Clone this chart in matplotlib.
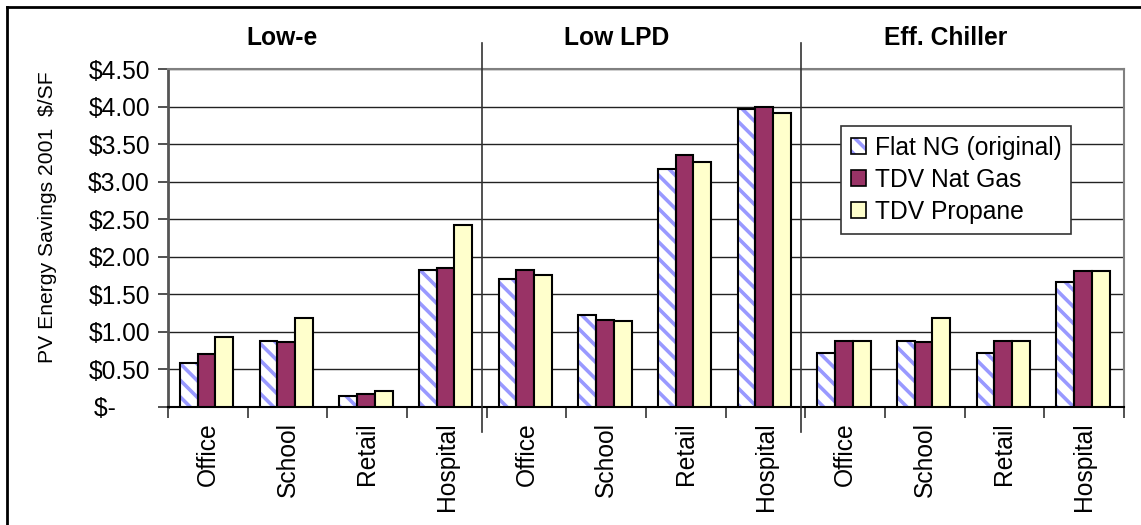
import matplotlib
matplotlib.use("Agg")
import matplotlib.pyplot as plt
import numpy as np
from matplotlib.lines import Line2D
from matplotlib.patches import Patch
from matplotlib.legend_handler import HandlerTuple

plt.rcParams['font.family'] = ['Liberation Sans', 'DejaVu Sans']
plt.rcParams['hatch.linewidth'] = 2.6

groups = ["Low-e", "Low LPD", "Eff. Chiller"]
buildings = ["Office", "School", "Retail", "Hospital"]
categories = buildings * 3
series_names = ["Flat NG (original)", "TDV Nat Gas", "TDV Propane"]
flat_ng = [0.58, 0.88, 0.14, 1.83, 1.71, 1.23, 3.17, 3.97, 0.72, 0.88, 0.72, 1.66]
tdv_nat_gas = [0.71, 0.87, 0.17, 1.85, 1.82, 1.16, 3.36, 4.00, 0.88, 0.87, 0.88, 1.81]
tdv_propane = [0.93, 1.18, 0.21, 2.42, 1.76, 1.15, 3.26, 3.92, 0.88, 1.18, 0.88, 1.81]
y_ticks = [0, 0.5, 1.0, 1.5, 2.0, 2.5, 3.0, 3.5, 4.0, 4.5]
y_tick_labels = ["$-     ", "$0.50", "$1.00", "$1.50", "$2.00", "$2.50", "$3.00", "$3.50", "$4.00", "$4.50"]

HATCH_COLOR = '#9999FF'
MAROON = '#993366'
CREAM = '#FFFFCC'

W, H = 1141, 525
fig = plt.figure(figsize=(W / 100, H / 100), dpi=100)
L, R, T, B = 168, 1124, 69, 407
ax = fig.add_axes([L / W, 1 - B / H, (R - L) / W, (B - T) / H])

fs = 17.7
x = np.arange(len(categories))
bw = 0.222
offs = [(i - 1) * bw - 0.015 for i in range(3)]

# Flat NG: hatched (blue stripes on white) then black outline
ax.bar(x + offs[0], flat_ng, width=bw, facecolor='white', edgecolor=HATCH_COLOR,
       hatch='\\\\', linewidth=0, zorder=3)
ax.bar(x + offs[0], flat_ng, width=bw, facecolor='none', edgecolor='black',
       linewidth=1.5, zorder=3.1)
ax.bar(x + offs[1], tdv_nat_gas, width=bw, facecolor=MAROON, edgecolor='black',
       linewidth=1.5, zorder=3)
ax.bar(x + offs[2], tdv_propane, width=bw, facecolor=CREAM, edgecolor='black',
       linewidth=1.5, zorder=3)

ax.set_xlim(-0.5, len(categories) - 0.5)
ax.set_ylim(0, 4.5)
ax.set_yticks(y_ticks)
ax.set_yticklabels(y_tick_labels, fontsize=fs)
ax.yaxis.grid(True, color='#222222', linewidth=1.0, zorder=0)
ax.set_axisbelow(True)

# x ticks: labels at centres, tick marks at boundaries
ax.set_xticks(x)
ax.set_xticklabels(categories, rotation=90, fontsize=fs, va='top', ha='center')
ax.tick_params(axis='x', length=0, pad=11)
ax.set_xticks(np.arange(len(categories) + 1) - 0.5, minor=True)
ax.tick_params(axis='x', which='minor', length=8, width=1.2, color='#333333', direction='out')
ax.tick_params(axis='y', length=7, width=1.2, color='#333333', direction='out', pad=6)

for s in ['top', 'right']:
    ax.spines[s].set_color('#808080')
    ax.spines[s].set_linewidth(1.5)
ax.spines['left'].set_color('#555555')
ax.spines['left'].set_linewidth(2)
ax.spines['bottom'].set_color('black')
ax.spines['bottom'].set_linewidth(1.5)

ax.set_ylabel("PV Energy Savings 2001  $/SF", fontsize=15.2)
ax.yaxis.set_label_coords(-0.116, 0.562)

# group separators
trans = ax.get_xaxis_transform()
for b in [3.5, 7.5]:
    xs = b - 0.06
    ax.plot([xs, xs], [-0.075, 1.077], transform=trans, color='#333333', lw=1.2,
            clip_on=False, zorder=4)

# group headers
header_x = [282, 617, 946]
for g, hx in zip(groups, header_x):
    fig.text(hx / W, 1 - 45 / H, g, fontsize=fs, fontweight='bold', ha='center', va='baseline')

# legend
h_flat = (Patch(facecolor='white', edgecolor=HATCH_COLOR, hatch='\\\\', linewidth=0),
          Patch(facecolor='none', edgecolor='black', linewidth=1.2))
h_ng = Patch(facecolor=MAROON, edgecolor='black', linewidth=1.2)
h_pr = Patch(facecolor=CREAM, edgecolor='black', linewidth=1.2)
leg = ax.legend([h_flat, h_ng, h_pr], series_names, fontsize=fs, loc='upper left',
                bbox_to_anchor=((841 - L) / (R - L), 1 - (126 - T) / (B - T)),
                handler_map={tuple: HandlerTuple(ndivide=1, pad=0)},
                frameon=True, fancybox=False, edgecolor='#333333', framealpha=1,
                handlelength=0.62, handleheight=0.62, handletextpad=0.35,
                borderpad=0.4, labelspacing=0.33, borderaxespad=0)
leg.get_frame().set_linewidth(1.2)
leg.set_zorder(5)

# outer border (left and top visible)
fig.add_artist(Line2D([7 / W, 7 / W], [0, 1 - 7 / H], color='black', lw=2, transform=fig.transFigure))
fig.add_artist(Line2D([7 / W, 1], [1 - 7 / H, 1 - 7 / H], color='black', lw=2, transform=fig.transFigure))

fig.savefig("out.png", dpi=100)
